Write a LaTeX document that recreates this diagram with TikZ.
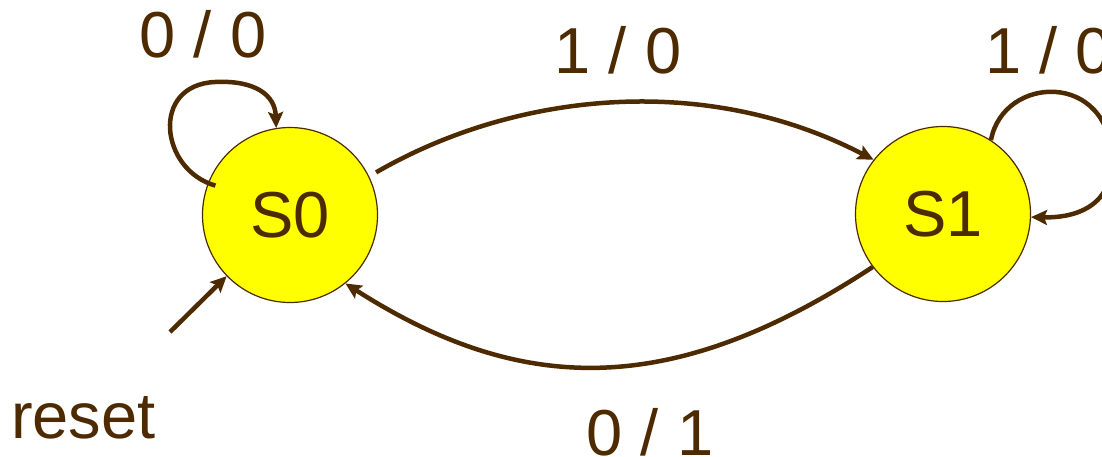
\documentclass[tikz,border=0pt]{standalone}
\usepackage{fontspec}
\setmainfont{Liberation Sans}
\usetikzlibrary{arrows.meta}
\definecolor{brn}{RGB}{77,42,0}
\definecolor{yel}{RGB}{255,255,0}
\begin{document}
\begin{tikzpicture}[x=1pt,y=-1pt,
  state/.style={circle,draw=brn,fill=yel,line width=1.2pt,minimum size=175pt,inner sep=0pt,text=brn,font=\fontsize{65}{72}\selectfont},
  lbl/.style={inner sep=0pt,text=brn,font=\fontsize{65}{72}\selectfont},
  edge/.style={draw=brn,line width=4.5pt,-{Stealth[length=16pt,width=15pt,inset=3pt]}}]
\useasboundingbox (0,0) rectangle (1102,456);
\clip (0,0) rectangle (1102,456);
\node[state] (S0) at (290,215) {S0};
\node[state] (S1) at (943,214) {S1};
\node[lbl,anchor=base] (l00) at (203,57) {0 / 0};
\node[lbl,anchor=base] (l10) at (618,73) {1 / 0};
\node[lbl,anchor=base west] (l10b) at (985,73) {1 / 0};
\node[lbl,anchor=base] (l01) at (650,455) {0 / 1};
\node[lbl,anchor=base west] (lr) at (11,438) {reset};
\coordinate (rs) at (170,332);
% transitions
\draw[edge,shorten <=8pt] (S0.26) .. controls (515,92) and (705,72) .. (S1.142);
\draw[edge] (S1.217) .. controls (670,400) and (520,395) .. (S0.-51);
\draw[edge,shorten <=-8pt] (S0.159) .. controls (160,170) and (150,85) .. (215,82) .. controls (255,80) and (275,95) .. (S0.99);
\draw[edge] (S1.57.6) .. controls (1003,75) and (1110,70) .. (1112,160) .. controls (1112,210) and (1070,218) .. (S1.-2.5);
\draw[edge] (rs) -- (S0.224);
\end{tikzpicture}
\end{document}
